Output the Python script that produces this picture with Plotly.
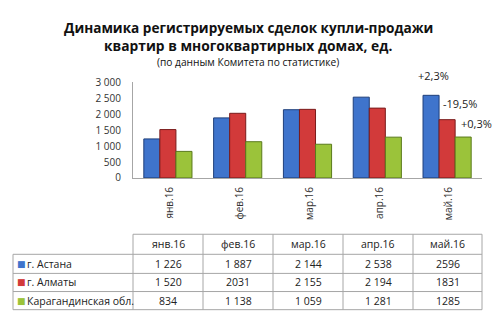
import plotly.graph_objects as go

months = ["янв.16", "фев.16", "мар.16", "апр.16", "май.16"]
series_names = ["г. Астана", "г. Алматы", "Карагандинская обл."]
astana = [1226, 1887, 2144, 2538, 2596]
almaty = [1520, 2031, 2155, 2194, 1831]
karaganda = [834, 1138, 1059, 1281, 1285]
astana_lbl = ["1 226", "1 887", "2 144", "2 538", "2596"]
almaty_lbl = ["1 520", "2031", "2 155", "2 194", "1831"]
karaganda_lbl = ["834", "1 138", "1 059", "1 281", "1285"]
changes = ["+2,3%", "-19,5%", "+0,3%"]
y_ticks = [0, 500, 1000, 1500, 2000, 2500, 3000]
y_tick_text = ["0", "500", "1 000", "1 500", "2 000", "2 500", "3 000"]
title_lines = ["Динамика регистрируемых сделок купли-продажи",
               "квартир в многоквартирных домах, ед.",
               "(по данным Комитета по статистике)"]

colors = ["#3f74cc", "#d23a3a", "#9bc33a"]
edge = ["#1f3f7a", "#7a1c1c", "#5a7a1c"]
FONT = "Open Sans"
TXT = "#222"
GRID = "#a6a6a6"
W, H = 500, 331

def px(x):
    return x / W

def py(y):
    return 1 - y / H

def note(x, y, text, font, xanchor="center"):
    fig.add_annotation(x=px(x), y=py(y), xref="paper", yref="paper", text=text,
                       showarrow=False, xanchor=xanchor, yanchor="middle", font=font)

fig = go.Figure()
for name, vals, c, e in zip(series_names, [astana, almaty, karaganda], colors, edge):
    fig.add_trace(go.Bar(x=months, y=vals, name=name,
                         marker=dict(color=c, line=dict(color=e, width=1)),
                         showlegend=False))

# change annotations next to the last bars
xs = [-31, -6, 12]
ys = [10, 7, 4]
for i, (txt, vals) in enumerate(zip(changes, [astana, almaty, karaganda])):
    fig.add_annotation(x=months[-1], y=vals[-1], text=txt, showarrow=False,
                       xref="x", yref="y", xanchor="left", yanchor="bottom",
                       xshift=xs[i], yshift=ys[i],
                       font=dict(family=FONT, size=11, color=TXT))

# titles
note(248, 20, f"<b>{title_lines[0]}</b>", dict(family=FONT, size=13.6, color="#111"))
note(248, 39, f"<b>{title_lines[1]}</b>", dict(family=FONT, size=13.8, color="#111"))
note(248, 57, title_lines[2], dict(family=FONT, size=10.2, color="#111"))

# data table below the chart
col_x = [13, 133, 203, 273, 343, 413, 482]
row_y = [237, 258, 278, 297, 316]
line = dict(color=GRID, width=1)
fig.add_shape(type="line", xref="paper", yref="paper", x0=px(col_x[1]), x1=px(col_x[-1]),
              y0=py(row_y[0]), y1=py(row_y[0]), line=line)
for yy in row_y[1:]:
    fig.add_shape(type="line", xref="paper", yref="paper", x0=px(col_x[0]), x1=px(col_x[-1]),
                  y0=py(yy), y1=py(yy), line=line)
fig.add_shape(type="line", xref="paper", yref="paper", x0=px(col_x[0]), x1=px(col_x[0]),
              y0=py(row_y[1]), y1=py(row_y[-1]), line=line)
for xx in col_x[1:]:
    fig.add_shape(type="line", xref="paper", yref="paper", x0=px(xx), x1=px(xx),
                  y0=py(row_y[0]), y1=py(row_y[-1]), line=line)

tf = dict(family=FONT, size=10.5, color=TXT)
for j, m in enumerate(months):
    note((col_x[j + 1] + col_x[j + 2]) / 2, (row_y[0] + row_y[1]) / 2, m, tf)
for i, (name, labels) in enumerate(zip(series_names, [astana_lbl, almaty_lbl, karaganda_lbl])):
    yc = (row_y[i + 1] + row_y[i + 2]) / 2
    note(15, yc, "■", dict(family="DejaVu Sans", size=9, color=colors[i]), xanchor="left")
    note(25, yc, name, tf, xanchor="left")
    for j, lab in enumerate(labels):
        note((col_x[j + 1] + col_x[j + 2]) / 2, yc, lab, tf)

fig.update_layout(
    width=W, height=H, margin=dict(l=0, r=0, t=0, b=0),
    paper_bgcolor="white", plot_bgcolor="white",
    barmode="group", bargap=0.31, bargroupgap=0,
    xaxis=dict(domain=[px(133), px(482)], range=[-0.5, len(months) - 0.5], autorange=False,
               tickangle=-90, showline=True, linecolor=GRID,
               ticks="", ticklabelstandoff=4, ticklabelshift=2,
               tickfont=dict(family=FONT, size=10, color="#333")),
    yaxis=dict(domain=[py(178), py(78)], range=[0, 3000], autorange=False,
               tickvals=y_ticks, ticktext=y_tick_text,
               showline=True, linecolor=GRID, showgrid=False, zeroline=False, ticks="",
               ticklabelstandoff=9, tickfont=dict(family=FONT, size=10, color="#333")),
)
fig.write_html("out.html")
